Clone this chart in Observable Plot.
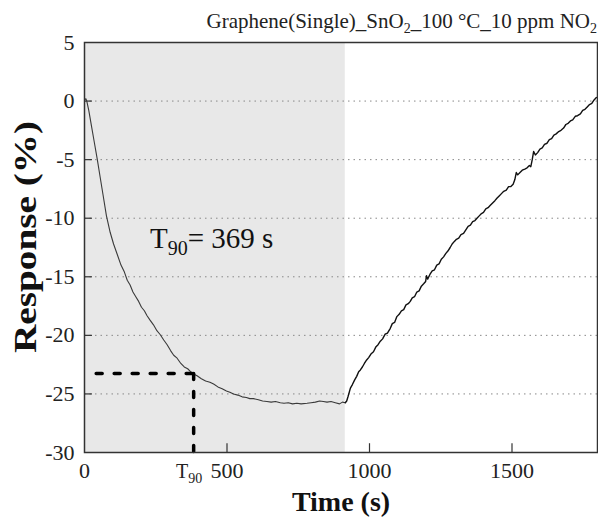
<!DOCTYPE html>
<html><head><meta charset="utf-8">
<script src="https://cdn.jsdelivr.net/npm/d3@7"></script>
<script src="https://cdn.jsdelivr.net/npm/@observablehq/plot@0.6"></script>
<style>body{margin:0;background:#fff}</style>
</head><body><div id="chart"></div>
<script>
// Exposure (decay) phase
const decayTime = [0,5,8,15,25,35,45,55,65,77,90,102,115,128,140,150,160,170,180,190,200,210,219,230,242,254,266,278,290,302,313,325,338,350,362,372,383,395,410,425,440,453,468,483,498,510,523,538,553,568,580,593,610,625,640,655,670,687,700,715,730,745,760,781,795,810,825,838,851,865,880,895,905,915];
const decayResp = [0.1,0.2,0.0,-0.8,-2.2,-3.6,-5.0,-6.5,-8.0,-9.8,-11.2,-12.2,-13.1,-14.0,-14.6,-15.3,-15.7,-16.3,-16.7,-17.1,-17.6,-17.9,-18.3,-18.7,-19.1,-19.6,-19.95,-20.4,-20.8,-21.3,-21.7,-21.95,-22.4,-22.7,-22.85,-23.1,-23.3,-23.45,-23.7,-23.9,-24.0,-24.15,-24.4,-24.55,-24.75,-24.85,-25.0,-25.1,-25.25,-25.3,-25.4,-25.4,-25.5,-25.6,-25.65,-25.7,-25.65,-25.75,-25.8,-25.75,-25.85,-25.8,-25.85,-25.8,-25.75,-25.7,-25.6,-25.65,-25.7,-25.65,-25.75,-25.85,-25.7,-25.75];
// Recovery phase
const recTime = [915,920,925,933,940,948,955,962,968,975,982,990,997,1005,1014,1022,1030,1038,1046,1055,1063,1073,1080,1088,1096,1104,1112,1120,1128,1136,1143,1150,1158,1166,1174,1182,1190,1197,1200,1204,1212,1220,1228,1236,1244,1252,1260,1268,1275,1283,1290,1297,1305,1313,1321,1330,1338,1346,1354,1362,1370,1377,1385,1393,1400,1408,1416,1424,1432,1440,1447,1455,1463,1471,1480,1488,1496,1504,1510,1515,1520,1528,1536,1545,1553,1561,1566,1571,1576,1582,1590,1598,1606,1614,1623,1631,1639,1647,1655,1664,1672,1681,1689,1697,1705,1713,1722,1730,1740,1748,1756,1764,1772,1780,1788,1796];
const recResp = [-25.75,-25.6,-25.2,-24.5,-24.2,-23.8,-23.5,-23.1,-22.95,-22.7,-22.4,-22.1,-21.9,-21.6,-21.4,-21.0,-20.8,-20.5,-20.3,-19.9,-19.8,-19.4,-19.0,-18.9,-18.4,-18.2,-17.9,-17.8,-17.4,-17.3,-17.1,-16.8,-16.7,-16.3,-16.2,-15.8,-15.6,-15.4,-14.9,-15.2,-14.8,-14.5,-14.4,-14.0,-13.9,-13.5,-13.3,-13.0,-12.8,-12.5,-12.2,-12.0,-11.8,-11.7,-11.4,-11.3,-11.0,-10.7,-10.6,-10.3,-10.2,-10.0,-9.8,-9.6,-9.5,-9.2,-9.1,-8.9,-8.7,-8.5,-8.3,-8.1,-7.9,-7.7,-7.6,-7.3,-7.3,-7.1,-6.7,-6.1,-6.3,-6.1,-5.9,-5.8,-5.7,-5.5,-5.6,-5.0,-4.3,-4.6,-4.4,-4.1,-4.0,-3.7,-3.6,-3.3,-3.2,-2.9,-2.8,-2.6,-2.5,-2.3,-2.0,-1.9,-1.7,-1.6,-1.3,-1.25,-1.1,-0.8,-0.7,-0.5,-0.3,-0.2,0.1,0.3];

const xTicks = [0, 500, 1000, 1500];
const yTicks = [5, 0, -5, -10, -15, -20, -25, -30];
const gridValues = [0, -5, -10, -15, -20, -25];
const exposureEnd = 915;
const t90Time = 383;      // position of T90 marker as drawn
const t90Resp = -23.26;   // 90% response level
const t90Start = 41;
const t90Text = "369";

const decay = decayTime.map((t, i) => ({t, r: decayResp[i]}));
const recovery = recTime.map((t, i) => ({t, r: recResp[i]}));
const shade = [{x1: 0, x2: exposureEnd, y1: -30, y2: 5}];
const hLine = [{t: t90Start, r: t90Resp}, {t: t90Time, r: t90Resp}];
const vLine = [{t: t90Time, r: t90Resp}, {t: t90Time, r: -30}];

const serif = "Liberation Serif";
const fmt = d => String(d);

const chart = Plot.plot({
  width: 598, height: 519,
  marginLeft: 84, marginRight: 1, marginTop: 42, marginBottom: 67,
  style: {fontFamily: serif, fontSize: "22px", color: "#222", background: "#fff", overflow: "visible"},
  x: {domain: [0, 1800]},
  y: {domain: [-30, 5]},
  marks: [
    Plot.rect(shade, {x1: "x1", x2: "x2", y1: "y1", y2: "y2", fill: "#e8e8e8"}),
    Plot.ruleY(gridValues, {stroke: "#888", strokeWidth: 1, strokeDasharray: "1.5,4"}),
    Plot.ruleX(xTicks.slice(1), {y1: -30, y2: -29.25, stroke: "#333", strokeWidth: 1.2}),
    Plot.ruleY(gridValues, {x1: 0, x2: 28, stroke: "#333", strokeWidth: 1.2}),
    Plot.line(decay, {x: "t", y: "r", stroke: "#3a3a3a", strokeWidth: 1.1}),
    Plot.line(recovery, {x: "t", y: "r", stroke: "#111", strokeWidth: 1.4}),
    Plot.line(hLine, {x: "t", y: "r", stroke: "#000", strokeWidth: 3.5, strokeDasharray: "6,12"}),
    Plot.line(vLine, {x: "t", y: "r", stroke: "#000", strokeWidth: 3.5, strokeDasharray: "6,12"}),
    Plot.frame({stroke: "#333", strokeWidth: 1.5}),
    Plot.axisX(xTicks, {anchor: "bottom", tickSize: 0, tickPadding: 10, label: null, fill: "#222",
      tickFormat: fmt, fontFamily: serif, fontSize: 22}),
    Plot.axisY(yTicks, {anchor: "left", tickSize: 0, tickPadding: 10, label: null, fill: "#222",
      tickFormat: fmt, fontFamily: serif, fontSize: 22})
  ]
});
document.getElementById("chart").appendChild(chart);

const svg = d3.select(chart);
const xs = chart.scale("x");

// Title
const title = svg.append("text").attr("x", 597).attr("y", 28).attr("text-anchor", "end")
  .attr("font-size", 21).attr("fill", "#222").attr("font-family", serif);
title.append("tspan").text("Graphene(Single)_SnO");
title.append("tspan").attr("font-size", 14).attr("dy", 5).text("2");
title.append("tspan").attr("dy", -5).text("_100 \u00B0C_10 ppm NO");
title.append("tspan").attr("font-size", 14).attr("dy", 5).text("2");

// Axis titles
svg.append("text").attr("x", 341).attr("y", 511).attr("text-anchor", "middle")
  .attr("font-size", 28).attr("font-weight", "bold").attr("fill", "#111").attr("font-family", serif)
  .text("Time (s)");
svg.append("text").attr("transform", "translate(36,237) rotate(-90)").attr("text-anchor", "middle")
  .attr("font-size", 31).attr("font-weight", "bold").attr("fill", "#111").attr("font-family", serif)
  .attr("textLength", 232).attr("lengthAdjust", "spacingAndGlyphs")
  .text("Response (%)");

// T90 annotation
const ann = svg.append("text").attr("x", 150).attr("y", 248).attr("text-anchor", "start")
  .attr("font-size", 29).attr("fill", "#111").attr("font-family", serif);
ann.append("tspan").text("T");
ann.append("tspan").attr("font-size", 20).attr("dy", 7).text("90");
ann.append("tspan").attr("dy", -7).text("= " + t90Text + " s");

// T90 tick label on x axis
const tl = svg.append("text").attr("x", xs.apply(t90Time) - 4).attr("y", 478).attr("text-anchor", "middle")
  .attr("font-size", 20).attr("fill", "#222").attr("font-family", serif);
tl.append("tspan").text("T");
tl.append("tspan").attr("font-size", 14).attr("dy", 5).text("90");
</script>
</body></html>
